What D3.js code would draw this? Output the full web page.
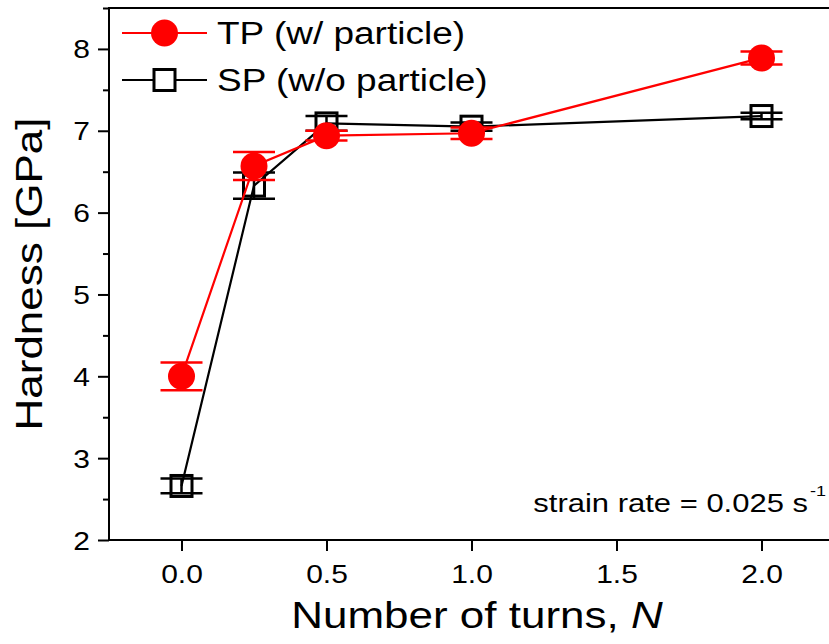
<!DOCTYPE html>
<html>
<head>
<meta charset="utf-8">
<script src="https://cdn.jsdelivr.net/npm/d3@7"></script>
<style>
  html, body { margin: 0; padding: 0; background: #fff; }
  svg { display: block; font-family: Arial, "Liberation Sans", sans-serif; }
</style>
</head>
<body>
<svg id="chart" width="829" height="644"></svg>
<script>
// ---- data ----
const turns = [0.0, 0.25, 0.5, 1.0, 2.0];
const tpHardness = [4.00, 6.57, 6.94, 6.97, 7.89];
const tpError    = [0.17, 0.17, 0.06, 0.07, 0.08];
const spHardness = [2.66, 6.33, 7.09, 7.05, 7.18];
const spError    = [0.09, 0.16, 0.09, 0.05, 0.04];
const xTicks = [0.0, 0.5, 1.0, 1.5, 2.0];
const yTicks = [2, 3, 4, 5, 6, 7, 8];
const yMinorTicks = [2.5, 3.5, 4.5, 5.5, 6.5, 7.5, 8.5];
const seriesNames = ["TP (w/ particle)", "SP (w/o particle)"];

(function () {
const svg = d3.select("#chart");
const plotLeft = 109, plotTop = 8, plotBottom = 540;
const x = d3.scaleLinear().domain([-0.25, 2.25]).range([plotLeft, plotLeft + 2.5 * 290]);
const y = d3.scaleLinear().domain([2, 8.5]).range([plotBottom, plotTop]);
const FONT = "Arial, 'Liberation Sans', sans-serif";
const SQ = 0.85; // glyphs in the original are slightly flattened

// frame
svg.append("rect").attr("x", x(-0.25)).attr("y", y(8.5))
  .attr("width", x(2.25) - x(-0.25)).attr("height", y(2) - y(8.5))
  .attr("fill", "none").attr("stroke", "#000").attr("stroke-width", 2);

// x axis
const xAxis = d3.axisBottom(x).tickValues(xTicks).tickFormat(d3.format(".1f")).tickSizeOuter(0).tickSize(11).tickPadding(10);
const gx = svg.append("g").attr("transform", `translate(0,${plotBottom})`).call(xAxis);
gx.select(".domain").remove();
gx.selectAll(".tick line").attr("stroke-width", 2);
gx.selectAll(".tick text").attr("font-size", 30).attr("fill", "#000").attr("font-family", FONT)
  .attr("y", 0).attr("dy", 0).attr("transform", `translate(0,43) scale(1,${SQ})`);

// y axis
const yAxis = d3.axisLeft(y).tickValues(yTicks).tickFormat(d3.format("d")).tickSizeOuter(0).tickSize(11).tickPadding(8);
const gy = svg.append("g").attr("transform", `translate(${plotLeft},0)`).call(yAxis);
gy.select(".domain").remove();
gy.selectAll(".tick line").attr("stroke-width", 2);
gy.selectAll(".tick text").attr("font-size", 30).attr("fill", "#000").attr("font-family", FONT)
  .attr("x", 0).attr("dy", 0).attr("transform", `translate(-19,9) scale(1,${SQ})`);
const gym = svg.append("g").attr("transform", `translate(${plotLeft},0)`)
  .call(d3.axisLeft(y).tickValues(yMinorTicks).tickFormat("").tickSize(6).tickSizeOuter(0));
gym.select(".domain").remove();
gym.selectAll(".tick line").attr("stroke-width", 2);

// axis titles
svg.append("text").attr("transform", `translate(42,274) rotate(-90) scale(1,${SQ})`)
  .attr("text-anchor", "middle").attr("font-size", 44).text("Hardness [GPa]");
const xl = svg.append("text").attr("transform", `translate(477,628) scale(1,${SQ})`)
  .attr("text-anchor", "middle").attr("font-size", 44);
xl.append("tspan").text("Number of turns, ");
xl.append("tspan").attr("font-style", "italic").text("N");

// annotation
svg.append("text").attr("transform", `translate(808,512) scale(1,${SQ})`)
  .attr("text-anchor", "end").attr("font-size", 31).text("strain rate = 0.025 s");
svg.append("text").attr("transform", `translate(810,496) scale(1,${SQ})`)
  .attr("font-size", 18).text("-1");

// series
const line = d3.line().x((d, i) => x(turns[i])).y(d => y(d));
const capHalf = 21;

function drawErrors(vals, errs, color) {
  const g = svg.append("g").attr("stroke", color).attr("stroke-width", 2.5);
  vals.forEach((v, i) => {
    const cx = x(turns[i]);
    g.append("line").attr("x1", cx).attr("x2", cx).attr("y1", y(v - errs[i])).attr("y2", y(v + errs[i]));
    g.append("line").attr("x1", cx - capHalf).attr("x2", cx + capHalf).attr("y1", y(v + errs[i])).attr("y2", y(v + errs[i]));
    g.append("line").attr("x1", cx - capHalf).attr("x2", cx + capHalf).attr("y1", y(v - errs[i])).attr("y2", y(v - errs[i]));
  });
}

// SP (black squares)
svg.append("path").datum(spHardness).attr("d", line).attr("fill", "none").attr("stroke", "#000").attr("stroke-width", 2.2);
drawErrors(spHardness, spError, "#000");
svg.append("g").selectAll("rect").data(spHardness).join("rect")
  .attr("x", (d, i) => x(turns[i]) - 10.5).attr("y", d => y(d) - 10.5)
  .attr("width", 21).attr("height", 21)
  .attr("fill", "none").attr("stroke", "#000").attr("stroke-width", 3);

// TP (red circles)
svg.append("path").datum(tpHardness).attr("d", line).attr("fill", "none").attr("stroke", "#ff0000").attr("stroke-width", 2.2);
drawErrors(tpHardness, tpError, "#ff0000");
svg.append("g").selectAll("circle").data(tpHardness).join("circle")
  .attr("cx", (d, i) => x(turns[i])).attr("cy", d => y(d)).attr("r", 13.5).attr("fill", "#ff0000");

// legend
const leg = svg.append("g");
const rows = [{ name: seriesNames[0], color: "#ff0000", y: 33, type: "circle" },
              { name: seriesNames[1], color: "#000", y: 80, type: "square" }];
rows.forEach(r => {
  leg.append("line").attr("x1", 122).attr("x2", 207).attr("y1", r.y).attr("y2", r.y)
    .attr("stroke", r.color).attr("stroke-width", 2.2);
  if (r.type === "circle") {
    leg.append("circle").attr("cx", 164.5).attr("cy", r.y).attr("r", 13.5).attr("fill", r.color);
  } else {
    leg.append("rect").attr("x", 154).attr("y", r.y - 10.5).attr("width", 21).attr("height", 21)
      .attr("fill", "#fff").attr("stroke", r.color).attr("stroke-width", 3);
  }
  leg.append("text").attr("transform", `translate(217,${r.y + 11}) scale(1,${SQ})`)
    .attr("font-size", 37).text(r.name);
});
})();
</script>
</body>
</html>
